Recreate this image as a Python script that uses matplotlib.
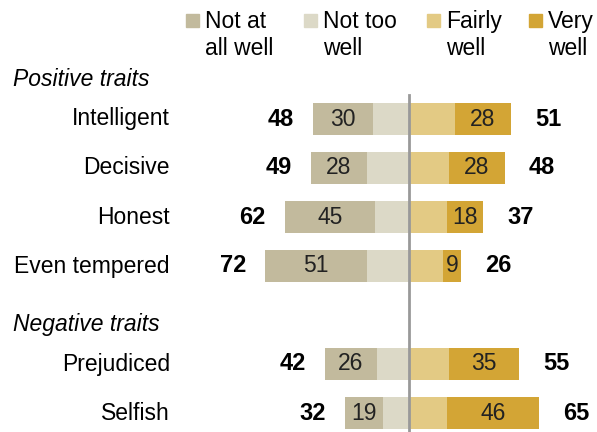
import matplotlib.pyplot as plt
from matplotlib.patches import Rectangle

# Data
traits = ['Intelligent', 'Decisive', 'Honest', 'Even tempered', 'Prejudiced', 'Selfish']
positions = [0, 1, 2, 3, 5, 6]
not_at_all = [30, 28, 45, 51, 26, 19]
not_too = [18, 21, 17, 21, 16, 13]
fairly = [23, 20, 19, 17, 20, 19]
very = [28, 28, 18, 9, 35, 46]
total_neg = [48, 49, 62, 72, 42, 32]
total_pos = [51, 48, 37, 26, 55, 65]
groups = [('Positive traits', 0), ('Negative traits', 5)]

legend_labels = ['Not at\nall well', 'Not too\nwell', 'Fairly\nwell', 'Very\nwell']
colors = ['#C2BA9D', '#DCD9C7', '#E3CA84', '#D3A535']

plt.rcParams['font.family'] = ['Liberation Sans', 'DejaVu Sans']

W, H = 597, 432
fig = plt.figure(figsize=(W / 100, H / 100), dpi=100)
ax = fig.add_axes([0, 0, 1, 1])
ax.axis('off')

# 2 px per percentage point, zero line at x=409 px; rows 49 px apart
x0, y0, row_h = 409, 119, 49
ax.set_xlim(-x0 / 2, (W - x0) / 2)
ax.set_ylim((H - y0) / row_h, -y0 / row_h)

bh = 0.66
nt_left = [-v for v in not_too]
na_left = [-(a + b) for a, b in zip(not_at_all, not_too)]
ax.barh(positions, not_too, left=nt_left, height=bh, color=colors[1])
ax.barh(positions, not_at_all, left=na_left, height=bh, color=colors[0])
ax.barh(positions, fairly, left=0, height=bh, color=colors[2])
ax.barh(positions, very, left=fairly, height=bh, color=colors[3])

fs = 16.5
for p, a, b, f, v, tn, tp, name in zip(positions, not_at_all, not_too, fairly, very,
                                        total_neg, total_pos, traits):
    ax.text(-(b + a / 2), p, str(a), ha='center', va='center', fontsize=fs, color='#222222')
    ax.text(f + v / 2, p, str(v), ha='center', va='center', fontsize=fs, color='#222222')
    ax.text(-(a + b) - 9.5, p, str(tn), ha='right', va='center', fontsize=fs + 0.5,
            fontweight='bold')
    ax.text(f + v + 12, p, str(tp), ha='left', va='center', fontsize=fs + 0.5,
            fontweight='bold')
    ax.text(170 / W, p, name, ha='right', va='center', fontsize=fs,
            transform=ax.get_yaxis_transform())

for label, first in groups:
    ax.text(13 / W, first - 0.8, label, ha='left', va='center', fontsize=fs,
            style='italic', transform=ax.get_yaxis_transform())

# zero line
ax.axvline(0, ymin=0, ymax=(H - 95) / H, color='#999999', lw=2)

# legend
sq_x = [186, 304, 427, 529]
for sx, lab, c in zip(sq_x, legend_labels, colors):
    fig.patches.append(Rectangle((sx / W, 1 - 27 / H), 13 / W, 13 / H,
                                 transform=fig.transFigure, color=c))
    fig.text((sx + 19) / W, 1 - 10 / H, lab, ha='left', va='top', fontsize=fs,
             linespacing=1.22)

fig.savefig('out.png', dpi=100)
